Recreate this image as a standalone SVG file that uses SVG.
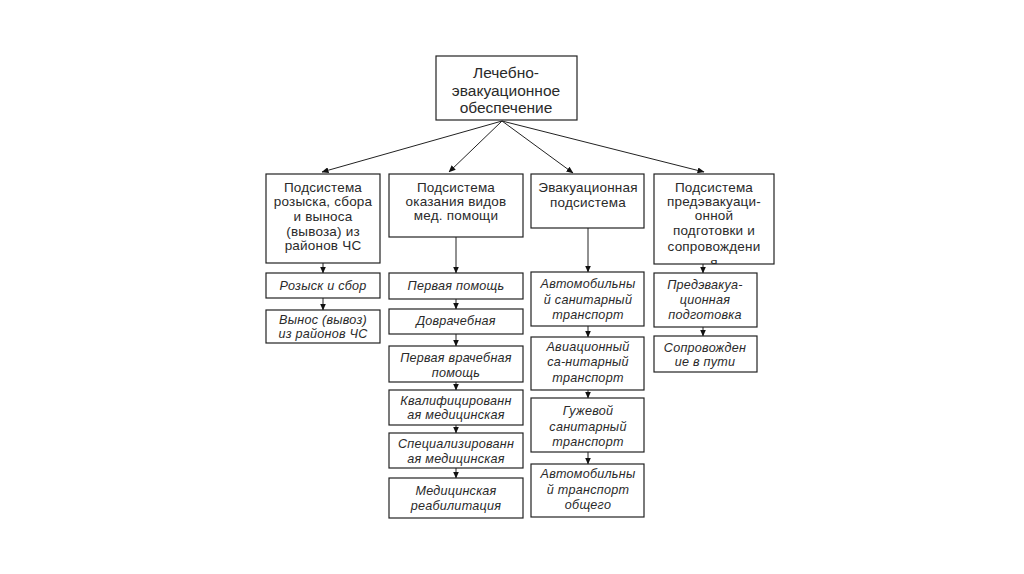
<svg xmlns="http://www.w3.org/2000/svg" width="1024" height="574" viewBox="0 0 1024 574">
<style>
.box{fill:#fff;stroke:#222;stroke-width:1.2}
.t{font-family:"Liberation Sans",Arial,sans-serif;fill:#2a2a2a;text-anchor:middle;dominant-baseline:central}
.top{font-size:15.5px}
.s{font-size:13.5px;letter-spacing:0.2px}
.c{font-size:12.6px;font-style:italic;letter-spacing:0.25px}
.ln{stroke:#222;stroke-width:1;fill:none}
</style>
<defs>
<marker id="ah" markerWidth="7" markerHeight="6" refX="6.5" refY="3" orient="auto" markerUnits="userSpaceOnUse">
<path d="M0,0 L7,3 L0,6 Z" fill="#111"/>
</marker>
<clipPath id="clip4"><rect x="654" y="174" width="120" height="90"/></clipPath>
</defs>
<rect width="1024" height="574" fill="#fff"/>

<g id="connectors">
<line class="ln" x1="502" y1="121" x2="322" y2="172" marker-end="url(#ah)"/>
<line class="ln" x1="502" y1="121" x2="449" y2="172" marker-end="url(#ah)"/>
<line class="ln" x1="502" y1="121" x2="573" y2="173" marker-end="url(#ah)"/>
<line class="ln" x1="502" y1="121" x2="704" y2="172" marker-end="url(#ah)"/>
<line class="ln" x1="323" y1="263" x2="323" y2="273" marker-end="url(#ah)"/>
<line class="ln" x1="323" y1="298" x2="323" y2="310" marker-end="url(#ah)"/>
<line class="ln" x1="456" y1="237" x2="456" y2="273" marker-end="url(#ah)"/>
<line class="ln" x1="456" y1="299" x2="456" y2="309" marker-end="url(#ah)"/>
<line class="ln" x1="456" y1="334" x2="456" y2="346" marker-end="url(#ah)"/>
<line class="ln" x1="456" y1="382" x2="456" y2="390" marker-end="url(#ah)"/>
<line class="ln" x1="456" y1="425" x2="456" y2="433" marker-end="url(#ah)"/>
<line class="ln" x1="456" y1="468" x2="456" y2="478" marker-end="url(#ah)"/>
<line class="ln" x1="588" y1="228" x2="588" y2="272" marker-end="url(#ah)"/>
<line class="ln" x1="588" y1="326" x2="588" y2="337" marker-end="url(#ah)"/>
<line class="ln" x1="588" y1="390" x2="588" y2="398" marker-end="url(#ah)"/>
<line class="ln" x1="588" y1="452" x2="588" y2="464" marker-end="url(#ah)"/>
<line class="ln" x1="703" y1="264" x2="703" y2="273" marker-end="url(#ah)"/>
<line class="ln" x1="703" y1="327" x2="703" y2="336" marker-end="url(#ah)"/>
</g>

<g id="root">
<rect class="box" x="436" y="56" width="141" height="64"/>
<text class="t top" x="506" y="72">Лечебно-</text>
<text class="t top" x="506" y="90">эвакуационное</text>
<text class="t top" x="506" y="107">обеспечение</text>
</g>

<g id="sub1">
<rect class="box" x="266" y="174" width="114" height="89"/>
<text class="t s" x="323" y="187">Подсистема</text>
<text class="t s" x="323" y="201">розыска, сбора</text>
<text class="t s" x="323" y="216">и выноса</text>
<text class="t s" x="323" y="231">(вывоза) из</text>
<text class="t s" x="323" y="245">районов ЧС</text>
</g>
<g id="sub2">
<rect class="box" x="389" y="174" width="134" height="63"/>
<text class="t s" x="456" y="187">Подсистема</text>
<text class="t s" x="456" y="201">оказания видов</text>
<text class="t s" x="456" y="215">мед. помощи</text>
</g>
<g id="sub3">
<rect class="box" x="531" y="174" width="113" height="54"/>
<text class="t s" x="588" y="187">Эвакуационная</text>
<text class="t s" x="588" y="202">подсистема</text>
</g>
<g id="sub4">
<rect class="box" x="654" y="174" width="120" height="90"/>
<g clip-path="url(#clip4)">
<text class="t s" x="714" y="187">Подсистема</text>
<text class="t s" x="714" y="201">предэвакуаци-</text>
<text class="t s" x="714" y="215">онной</text>
<text class="t s" x="714" y="230">подготовки и</text>
<text class="t s" x="714" y="246">сопровождени</text>
<text class="t s" x="714" y="262">я</text>
</g>
</g>

<g id="c1a"><rect class="box" x="266" y="273" width="114" height="25"/>
<text class="t c" x="323" y="286">Розыск и сбор</text></g>
<g id="c1b"><rect class="box" x="266" y="310" width="114" height="33"/>
<text class="t c" x="323" y="320">Вынос (вывоз)</text>
<text class="t c" x="323" y="334">из районов ЧС</text></g>

<g id="c2a"><rect class="box" x="389" y="273" width="134" height="26"/>
<text class="t c" x="456" y="286">Первая помощь</text></g>
<g id="c2b"><rect class="box" x="389" y="309" width="134" height="25"/>
<text class="t c" x="456" y="321">Доврачебная</text></g>
<g id="c2c"><rect class="box" x="389" y="346" width="134" height="36"/>
<text class="t c" x="456" y="358">Первая врачебная</text>
<text class="t c" x="456" y="373">помощь</text></g>
<g id="c2d"><rect class="box" x="389" y="390" width="134" height="35"/>
<text class="t c" x="456" y="401">Квалифицированн</text>
<text class="t c" x="456" y="415">ая медицинская</text></g>
<g id="c2e"><rect class="box" x="389" y="433" width="134" height="35"/>
<text class="t c" x="456" y="444">Специализированн</text>
<text class="t c" x="456" y="459">ая медицинская</text></g>
<g id="c2f"><rect class="box" x="389" y="478" width="134" height="40"/>
<text class="t c" x="456" y="491">Медицинская</text>
<text class="t c" x="456" y="506">реабилитация</text></g>

<g id="c3a"><rect class="box" x="531" y="272" width="113" height="54"/>
<text class="t c" x="588" y="284">Автомобильны</text>
<text class="t c" x="588" y="300">й санитарный</text>
<text class="t c" x="588" y="315">транспорт</text></g>
<g id="c3b"><rect class="box" x="531" y="337" width="113" height="53"/>
<text class="t c" x="588" y="347">Авиационный</text>
<text class="t c" x="588" y="362">са-нитарный</text>
<text class="t c" x="588" y="378">транспорт</text></g>
<g id="c3c"><rect class="box" x="531" y="398" width="113" height="54"/>
<text class="t c" x="588" y="411">Гужевой</text>
<text class="t c" x="588" y="427">санитарный</text>
<text class="t c" x="588" y="442">транспорт</text></g>
<g id="c3d"><rect class="box" x="531" y="464" width="113" height="53"/>
<text class="t c" x="588" y="474">Автомобильны</text>
<text class="t c" x="588" y="490">й транспорт</text>
<text class="t c" x="588" y="505">общего</text></g>

<g id="c4a"><rect class="box" x="654" y="273" width="103" height="54"/>
<text class="t c" x="705" y="285">Предэвакуа-</text>
<text class="t c" x="705" y="300">ционная</text>
<text class="t c" x="705" y="315">подготовка</text></g>
<g id="c4b"><rect class="box" x="654" y="336" width="103" height="36"/>
<text class="t c" x="705" y="348">Сопровожден</text>
<text class="t c" x="705" y="362">ие в пути</text></g>
</svg>
